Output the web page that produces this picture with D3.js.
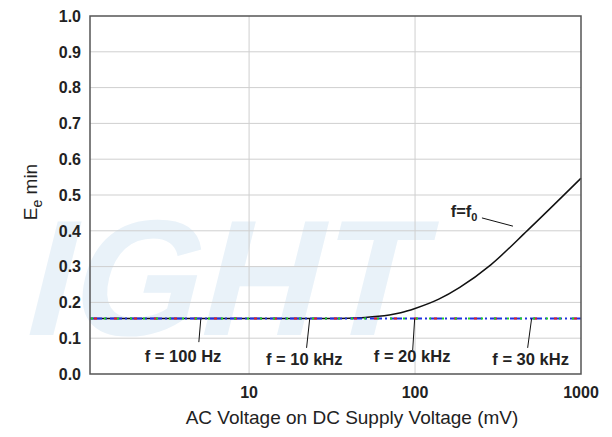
<!DOCTYPE html>
<html><head><meta charset="utf-8">
<script src="https://cdn.jsdelivr.net/npm/d3@7"></script>
<style>body{margin:0;background:#fff}svg{display:block}text{font-family:"Liberation Sans",Arial,sans-serif}</style>
</head><body><svg id="c" width="612" height="437"></svg>
<script>
const xTicks = [10, 100, 1000];
const yTicks = [0,0.1,0.2,0.3,0.4,0.5,0.6,0.7,0.8,0.9,1.0];
const curveX = [1.1, 10, 30, 40, 50, 60, 70, 82, 100, 139, 186, 286, 478, 1000];
const curveY = [0.155, 0.155, 0.155, 0.156, 0.158, 0.161, 0.165, 0.171, 0.183, 0.209, 0.242, 0.305, 0.402, 0.547];
const flatX = [1.1, 1000];
const flatY = [0.155, 0.155];
const labels = [
  {t:"f = 100 Hz", x:4.0, y:0.034, lx:[4.98,5.12], ly:[0.089,0.155]},
  {t:"f = 10 kHz", x:21.5, y:0.025, lx:[22.2,23.2], ly:[0.073,0.155]},
  {t:"f = 20 kHz", x:96, y:0.034, lx:[96.8,99.5], ly:[0.067,0.155]},
  {t:"f = 30 kHz", x:497, y:0.025, lx:[477,504], ly:[0.073,0.155]}
];
const f0Label = {x:164, y:0.4385, lx:[253,389], ly:[0.436,0.413]};

const svg = d3.select("#c");
const m = {l:90, r:581, t:16, b:374};
const x = d3.scaleLog().domain([1.1,1000]).range([m.l,m.r]);
const y = d3.scaleLinear().domain([0,1]).range([m.b,m.t]);

// watermark
svg.append("text").attr("x",102).attr("y",335)
  .attr("transform","skewX(-14)")
  .style("font-size","165px").style("font-weight","bold")
  .attr("fill","#e9f2f9").text("IGHT");

// grid
svg.append("g").selectAll("line").data(yTicks.slice(1,-1)).join("line")
  .attr("x1",m.l).attr("x2",m.r).attr("y1",d=>y(d)).attr("y2",d=>y(d))
  .attr("stroke","#cfcfcf").attr("stroke-width",1);
svg.append("g").selectAll("line").data([10,100]).join("line")
  .attr("y1",m.t).attr("y2",m.b).attr("x1",d=>x(d)).attr("x2",d=>x(d))
  .attr("stroke","#cfcfcf").attr("stroke-width",1);

// tick labels
svg.append("g").selectAll("text").data(yTicks).join("text")
  .attr("x",81).attr("y",d=>y(d)+5.7).attr("text-anchor","end")
  .style("font-size","16px").style("font-weight","bold").attr("fill","#222")
  .text(d=>d3.format(".1f")(d));
svg.append("g").selectAll("text").data(xTicks).join("text")
  .attr("x",d=>x(d)).attr("y",398).attr("text-anchor","middle")
  .style("font-size","16px").style("font-weight","bold").attr("fill","#222")
  .text(d=>d);

// axis titles
svg.append("text").attr("x",352).attr("y",424).attr("text-anchor","middle")
  .style("font-size","19px").attr("fill","#222").text("AC Voltage on DC Supply Voltage (mV)");
const yt = svg.append("text").attr("transform","translate(37,192) rotate(-90)").attr("text-anchor","middle")
  .style("font-size","19px").attr("fill","#222");
yt.append("tspan").text("E");
yt.append("tspan").attr("dy",5).style("font-size","14px").text("e");
yt.append("tspan").attr("dy",-5).text(" min");

// lines
const line = d3.line().x(d=>x(d[0])).y(d=>y(d[1])).curve(d3.curveMonotoneX);
const flat = flatX.map((d,i)=>[d,flatY[i]]);
const g = svg.append("g");
g.append("path").attr("d",line(curveX.map((d,i)=>[d,curveY[i]]))).attr("fill","none").attr("stroke","#111").attr("stroke-width",1.5);
g.append("path").attr("d",line(flat)).attr("fill","none").attr("stroke","#2030e0").attr("stroke-width",2).attr("stroke-dasharray","12,3,2,3");
g.append("path").attr("d",line(flat)).attr("fill","none").attr("stroke","#e02020").attr("stroke-width",2).attr("stroke-dasharray","3,17").attr("stroke-dashoffset",-4);
g.append("path").attr("d",line(flat)).attr("fill","none").attr("stroke","#20d020").attr("stroke-width",2).attr("stroke-dasharray","2,11").attr("stroke-dashoffset",-1);

// labels
labels.forEach(l=>{
  svg.append("line").attr("x1",x(l.lx[0])).attr("x2",x(l.lx[1])).attr("y1",y(l.ly[0])).attr("y2",y(l.ly[1]))
    .attr("stroke","#111").attr("stroke-width",1);
  svg.append("text").attr("x",x(l.x)).attr("y",y(l.y)).attr("text-anchor","middle")
    .style("font-size","16.5px").style("font-weight","bold").attr("fill","#222").text(l.t);
});
const f0 = svg.append("text").attr("x",x(f0Label.x)).attr("y",y(f0Label.y)).style("font-size","16.5px").style("font-weight","bold").attr("fill","#222");
f0.append("tspan").text("f=f");
f0.append("tspan").attr("dy",4).style("font-size","11px").text("0");
svg.append("line").attr("x1",x(f0Label.lx[0])).attr("y1",y(f0Label.ly[0])).attr("x2",x(f0Label.lx[1])).attr("y2",y(f0Label.ly[1])).attr("stroke","#111").attr("stroke-width",1);

// frame
svg.append("rect").attr("x",m.l).attr("y",m.t).attr("width",m.r-m.l).attr("height",m.b-m.t)
  .attr("fill","none").attr("stroke","#555").attr("stroke-width",1.5);
</script></body></html>
